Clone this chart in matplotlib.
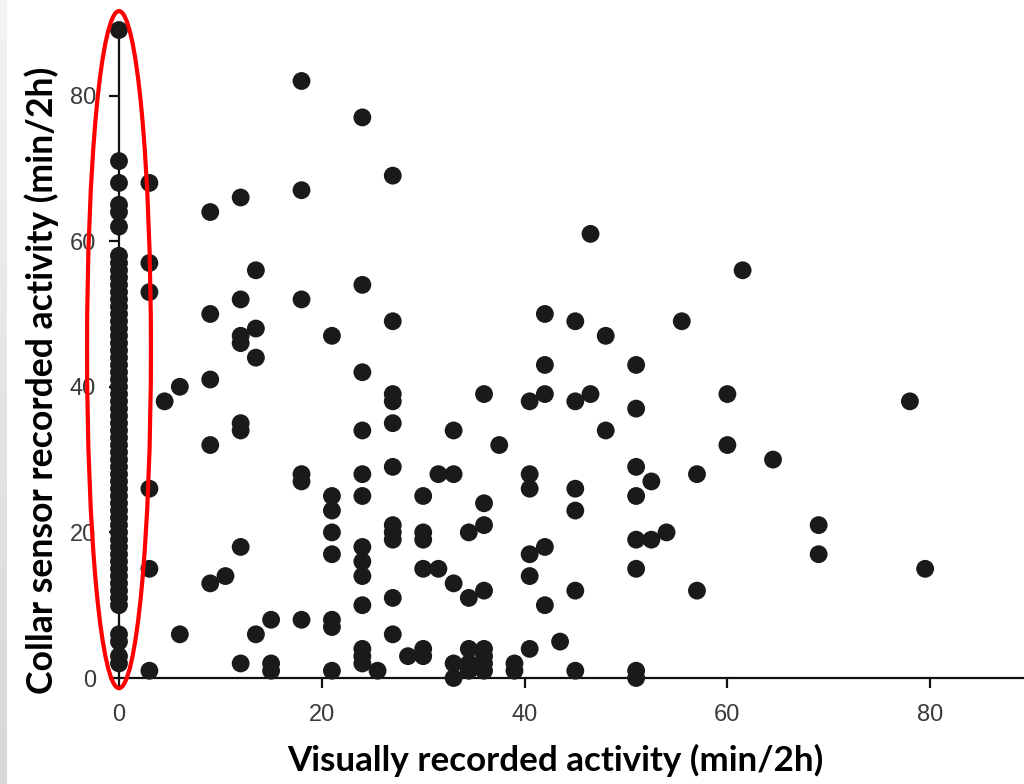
import numpy as np
import matplotlib.pyplot as plt
from matplotlib.patches import Ellipse

# visually recorded activity = 0 (the column circled in red)
zero_collar = [2, 3, 5, 6, 10, 11, 12, 13, 14, 15, 16, 17, 18, 19, 20, 21, 22, 23,
               24, 25, 26, 27, 28, 29, 30, 31, 32, 33, 34, 35, 36, 37, 38, 39, 40,
               41, 42, 43, 44, 45, 46, 47, 48, 49, 50, 51, 52, 53, 54, 55, 56, 57,
               58, 62, 64, 65, 68, 71, 89]

# the other observations, one line per visual value
visual = [3, 3, 3, 3, 3, 3,
          4.5, 6, 6,
          9, 9, 9, 9, 9,
          10.5,
          12, 12, 12, 12, 12, 12, 12, 12,
          13.5, 13.5, 13.5, 13.5,
          15, 15, 15,
          18, 18, 18, 18, 18, 18,
          21, 21, 21, 21, 21, 21, 21, 21,
          24, 24, 24, 24, 24, 24, 24, 24, 24, 24, 24, 24, 24,
          25.5,
          27, 27, 27, 27, 27, 27, 27, 27, 27, 27, 27,
          28.5,
          30, 30, 30, 30, 30, 30,
          31.5, 31.5,
          33, 33, 33, 33, 33,
          34.5, 34.5, 34.5, 34.5, 34.5,
          36, 36, 36, 36, 36, 36, 36, 36,
          37.5,
          39, 39,
          40.5, 40.5, 40.5, 40.5, 40.5, 40.5,
          42, 42, 42, 42, 42,
          43.5,
          45, 45, 45, 45, 45, 45,
          46.5, 46.5,
          48, 48,
          51, 51, 51, 51, 51, 51, 51, 51,
          52.5, 52.5,
          54, 55.5,
          57, 57,
          60, 60,
          61.5, 64.5,
          69, 69,
          78, 79.5]

collar = [68, 57, 53, 26, 15, 1,
          38, 40, 6,
          64, 50, 41, 32, 13,
          14,
          66, 52, 47, 46, 35, 34, 18, 2,
          56, 48, 44, 6,
          8, 2, 1,
          82, 67, 52, 28, 27, 8,
          47, 25, 23, 20, 17, 8, 7, 1,
          77, 54, 42, 34, 28, 25, 18, 16, 14, 10, 4, 3, 2,
          1,
          69, 49, 39, 38, 35, 29, 21, 20, 19, 11, 6,
          3,
          25, 20, 19, 15, 4, 3,
          28, 15,
          34, 28, 13, 2, 0,
          20, 11, 4, 2, 1,
          39, 24, 21, 12, 4, 3, 2, 1,
          32,
          2, 1,
          38, 28, 26, 17, 14, 4,
          50, 43, 39, 18, 10,
          5,
          49, 38, 26, 23, 12, 1,
          61, 39,
          47, 34,
          43, 37, 29, 25, 19, 15, 1, 0,
          27, 19,
          20, 49,
          28, 12,
          39, 32,
          56, 30,
          21, 17,
          38, 15]

x_ticks = [0, 20, 40, 60, 80]
y_ticks = [0, 20, 40, 60, 80]


def main():
    fig = plt.figure(figsize=(10.24, 7.84), dpi=100)

    # grey strip down the left edge of the slide
    strip = fig.add_axes([0, 0, 7 / 1024, 1])
    strip.imshow(np.linspace(0.95, 0.84, 100).reshape(-1, 1), cmap='gray',
                 vmin=0, vmax=1, aspect='auto')
    strip.axis('off')

    ax = fig.add_axes([0.1162, 0.1352, 0.8838, 0.8265])
    xs = [0] * len(zero_collar) + visual
    ys = zero_collar + collar
    ax.scatter(xs, ys, s=165, color='#1a1a1a', edgecolors='none',
               zorder=3, clip_on=False)

    # red ellipse round the zero column
    ax.add_patch(Ellipse((0, 45.1), 6.3, 93.0, fill=False, edgecolor='#ff0000',
                         linewidth=3, zorder=4, clip_on=False))

    ax.set_xlim(0, 89.25)
    ax.set_ylim(0, 89)
    for side in ['top', 'right']:
        ax.spines[side].set_visible(False)
    for side in ['left', 'bottom']:
        ax.spines[side].set_linewidth(1.6)
        ax.spines[side].set_color('#111111')

    ax.set_xticks(x_ticks)
    ax.set_yticks(y_ticks)
    ax.tick_params(axis='both', length=7.5, width=1.6, color='#111111',
                   labelsize=17, labelcolor='#3a3a3a')
    ax.tick_params(axis='x', pad=11)
    ax.tick_params(axis='y', pad=9)
    for lab in ax.get_xticklabels() + ax.get_yticklabels():
        lab.set_family('Liberation Sans')

    fig.text(0.542, 0.03, 'Visually recorded activity (min/2h)', ha='center',
             va='center', fontsize=25.2, fontweight='bold', family='Lato')
    fig.text(0.041, 0.515, 'Collar sensor recorded activity (min/2h)', ha='center',
             va='center', rotation=90, fontsize=25.7, fontweight='bold', family='Lato')

    fig.savefig('out.png', dpi=100, facecolor='white')


if __name__ == "__main__":
    main()
